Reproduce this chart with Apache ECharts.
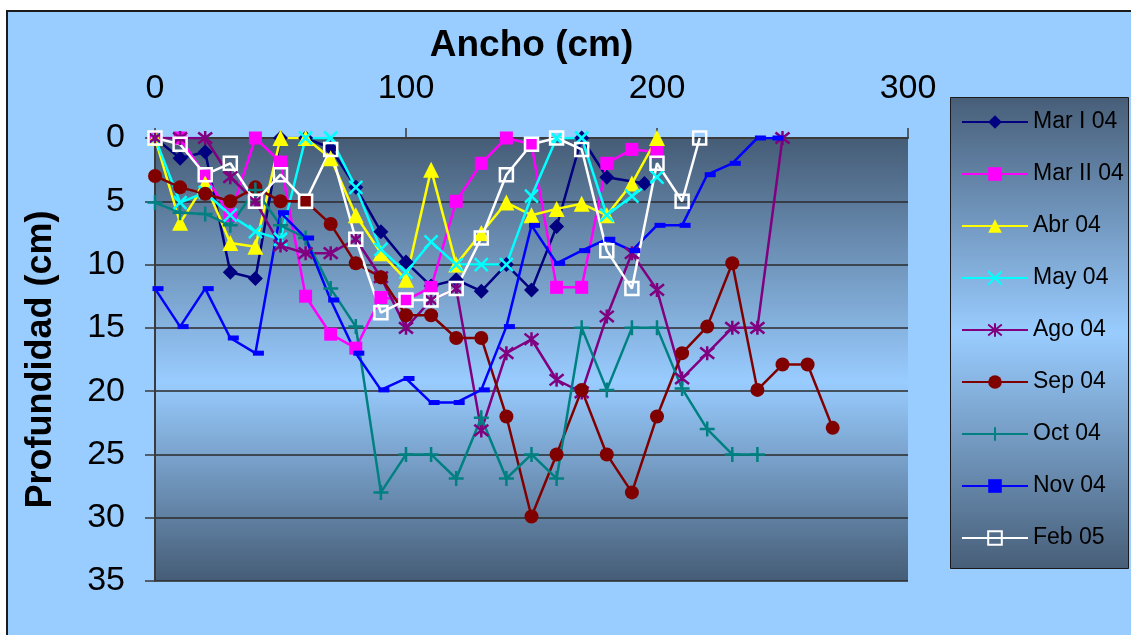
<!DOCTYPE html>
<html>
<head>
<meta charset="utf-8">
<title>Profundidad vs Ancho</title>
<script src="https://cdn.jsdelivr.net/npm/echarts@6/dist/echarts.min.js"></script>
<style>
  html, body { margin: 0; padding: 0; background: #ffffff; }
  #chart { position: absolute; left: 0; top: 0; width: 1131px; height: 635px; }
</style>
</head>
<body>
<div id="chart"></div>
<script>
// Cross-section survey: width along the transect (cm) vs depth (cm)
const seriesNames = ['Mar I 04', 'Mar II 04', 'Abr 04', 'May 04', 'Ago 04', 'Sep 04', 'Oct 04', 'Nov 04', 'Feb 05'];

const marIX  = [0, 10, 20, 30, 40, 50, 60, 70, 80, 90, 100, 110, 120, 130, 140, 150, 160, 170, 180, 195];
const marIY  = [0, 1.6, 1.1, 10.6, 11.1, 0, 0, 0.8, 3.9, 7.4, 9.8, 11.7, 11.2, 12.1, 10.0, 12.0, 7.0, 0, 3.1, 3.6];

const marIIX = [0, 10, 20, 30, 40, 50, 60, 70, 80, 90, 100, 110, 120, 130, 140, 150, 160, 170, 180, 190, 200];
const marIIY = [0, 0, 3.0, 6.1, 0, 1.9, 12.5, 15.5, 16.6, 12.6, 12.8, 11.8, 5.0, 2.0, 0, 0.5, 11.8, 11.8, 2.0, 0.9, 1.1];

const abrX   = [0, 10, 20, 30, 40, 50, 60, 70, 80, 90, 100, 110, 120, 130, 140, 150, 160, 170, 180, 190, 200];
const abrY   = [0, 6.7, 3.6, 8.3, 8.6, 0, 0, 1.6, 6.1, 9.1, 11.2, 2.5, 10.0, 7.5, 5.1, 6.1, 5.6, 5.2, 6.1, 3.6, 0];

const mayX   = [0, 10, 20, 30, 40, 50, 60, 70, 80, 90, 100, 110, 120, 130, 140, 150, 160, 170, 180, 190, 200];
const mayY   = [0, 5.1, 4.3, 6.1, 7.4, 8.0, 0, 0, 3.9, 8.8, 10.6, 8.2, 10.0, 10.0, 10.0, 4.6, 0, 0, 6.1, 4.6, 3.1];

const agoX   = [0, 10, 20, 30, 40, 50, 60, 70, 80, 90, 100, 110, 120, 130, 140, 150, 160, 170, 180, 190, 200, 210, 220, 230, 240, 250];
const agoY   = [0, 0, 0, 3.1, 5.0, 8.5, 9.1, 9.1, 8.0, 11.0, 15.0, 12.8, 11.9, 23.1, 17.0, 15.9, 19.1, 20.1, 14.1, 9.1, 12.0, 19.0, 17.0, 15.0, 15.0, 0];

const sepX   = [0, 10, 20, 30, 40, 50, 60, 70, 80, 90, 100, 110, 120, 130, 140, 150, 160, 170, 180, 190, 200, 210, 220, 230, 240, 250, 260, 270];
const sepY   = [3.0, 3.9, 4.4, 5.0, 3.9, 5.0, 5.0, 6.8, 9.9, 11.0, 14.0, 14.0, 15.8, 15.8, 22.0, 29.9, 25.0, 19.9, 25.0, 28.0, 22.0, 17.0, 14.9, 9.9, 19.9, 17.9, 17.9, 22.9];

const octX   = [0, 10, 20, 30, 40, 50, 60, 70, 80, 90, 100, 110, 120, 130, 140, 150, 160, 170, 180, 190, 200, 210, 220, 230, 240];
const octY   = [5.1, 5.9, 6.0, 6.9, 4.1, 6.9, 7.9, 11.9, 14.9, 28.0, 25.0, 25.0, 26.9, 22.1, 26.9, 25.0, 26.9, 15.0, 19.9, 15.0, 15.0, 19.8, 23.0, 25.0, 25.0];

const novX   = [0, 10, 20, 30, 40, 50, 60, 70, 80, 90, 100, 110, 120, 130, 140, 150, 160, 170, 180, 190, 200, 210, 220, 230, 240, 247];
const novY   = [11.9, 14.9, 11.9, 15.8, 17.0, 5.9, 7.9, 12.8, 17.0, 19.9, 19.0, 20.9, 20.9, 19.9, 14.9, 6.9, 9.9, 8.9, 8.0, 8.9, 6.9, 6.9, 2.9, 2.0, 0, 0];

const febX   = [0, 10, 20, 30, 40, 50, 60, 70, 80, 90, 100, 110, 120, 130, 140, 150, 160, 170, 180, 190, 200, 210, 217];
const febY   = [0, 0.5, 2.9, 2.0, 5.0, 2.9, 5.0, 0.9, 8.0, 13.8, 12.8, 12.8, 11.9, 7.9, 2.9, 0.5, 0, 0.9, 8.9, 11.9, 2.0, 5.0, 0];

const xTicks = [0, 100, 200, 300];
const yTicks = [0, 5, 10, 15, 20, 25, 30, 35];

const FONT = '"Liberation Sans", Arial, sans-serif';

// marker outlines drawn as strokes
const CROSS    = 'path://M0,0L10,10M10,0L0,10';
const ASTERISK = 'path://M1,1L9,9M9,1L1,9M5,0L5,10';
const PLUS     = 'path://M5,0L5,10M0,5L10,5';

function pairs(xs, ys) { return xs.map((x, i) => [x, ys[i]]); }

function lineSeries(name, xs, ys, color, marker) {
  return Object.assign({
    name: name,
    type: 'line',
    data: pairs(xs, ys),
    lineStyle: { color: color, width: 2.5 },
    emphasis: { disabled: true },
    animation: false
  }, marker);
}

const series = [
  lineSeries(seriesNames[0], marIX, marIY, '#000080', {
    symbol: 'diamond', symbolSize: 15, itemStyle: { color: '#000080', borderWidth: 0 } }),
  lineSeries(seriesNames[1], marIIX, marIIY, '#ff00ff', {
    symbol: 'rect', symbolSize: 13, itemStyle: { color: '#ff00ff', borderWidth: 0 } }),
  lineSeries(seriesNames[2], abrX, abrY, '#ffff00', {
    symbol: 'triangle', symbolSize: 16, itemStyle: { color: '#ffff00', borderWidth: 0 } }),
  lineSeries(seriesNames[3], mayX, mayY, '#00ffff', {
    symbol: CROSS, symbolSize: 13, itemStyle: { color: '#00ffff', borderColor: '#00ffff', borderWidth: 2.5 } }),
  lineSeries(seriesNames[4], agoX, agoY, '#800080', {
    symbol: ASTERISK, symbolSize: 14, itemStyle: { color: '#800080', borderColor: '#800080', borderWidth: 2.5 } }),
  lineSeries(seriesNames[5], sepX, sepY, '#800000', {
    symbol: 'circle', symbolSize: 14, itemStyle: { color: '#800000', borderWidth: 0 } }),
  lineSeries(seriesNames[6], octX, octY, '#008080', {
    symbol: PLUS, symbolSize: 15, itemStyle: { color: '#008080', borderColor: '#008080', borderWidth: 2.5 } }),
  lineSeries(seriesNames[7], novX, novY, '#0000ff', {
    symbol: 'rect', symbolSize: [11, 5], symbolOffset: [3, 0], itemStyle: { color: '#0000ff', borderWidth: 0 } }),
  lineSeries(seriesNames[8], febX, febY, '#ffffff', {
    symbol: 'rect', symbolSize: 13, itemStyle: { color: 'rgba(0,0,0,0)', borderColor: '#ffffff', borderWidth: 2.5 } })
];

function vGradient(edge, mid, midPos) {
  return {
    type: 'linear', x: 0, y: 0, x2: 0, y2: 1,
    colorStops: [
      { offset: 0, color: edge },
      { offset: midPos, color: mid },
      { offset: 1, color: edge }
    ]
  };
}

const chart = echarts.init(document.getElementById('chart'), null, { renderer: 'canvas' });

chart.setOption({
  animation: false,
  backgroundColor: '#ffffff',
  textStyle: { fontFamily: FONT },
  graphic: [
    { type: 'rect', z: -10, silent: true,
      shape: { x: 7, y: 11, width: 1140, height: 640 },
      style: { fill: '#99ccff', stroke: '#1a1a1a', lineWidth: 2 } },
    { type: 'rect', z: -5, silent: true,
      shape: { x: 950.5, y: 97.5, width: 178, height: 471 },
      style: { fill: vGradient('#475e78', '#99ccff', 0.5), stroke: '#1a1a1a', lineWidth: 1 } }
  ],
  grid: {
    left: 155, top: 138, width: 753, height: 443,
    show: true, borderWidth: 0,
    backgroundColor: vGradient('#455c76', '#99ccff', 0.55)
  },
  xAxis: {
    type: 'value', position: 'top',
    min: xTicks[0], max: xTicks[xTicks.length - 1], interval: 100,
    name: 'Ancho (cm)', nameLocation: 'middle', nameGap: 74,
    nameTextStyle: { fontFamily: FONT, fontSize: 37, fontWeight: 'bold', color: '#000' },
    axisLine: { show: true, lineStyle: { color: '#3a3a3a', width: 2 } },
    axisTick: { show: true, inside: false, length: 10, lineStyle: { color: '#3a3a3a', width: 1.5 } },
    axisLabel: { margin: 32, fontFamily: FONT, fontSize: 34, color: '#000' },
    splitLine: { show: false }
  },
  yAxis: {
    type: 'value', inverse: true,
    min: yTicks[0], max: yTicks[yTicks.length - 1], interval: 5,
    name: 'Profundidad (cm)', nameLocation: 'middle', nameGap: 96,
    nameTextStyle: { fontFamily: FONT, fontSize: 36, fontWeight: 'bold', color: '#000' },
    axisLine: { show: true, lineStyle: { color: '#3a3a3a', width: 2 } },
    axisTick: { show: true, inside: false, length: 10, lineStyle: { color: '#3a3a3a', width: 1.5 } },
    axisLabel: { margin: 30, fontFamily: FONT, fontSize: 34, color: '#000' },
    splitLine: { show: true, lineStyle: { color: '#2a2a2a', width: 1.5 } }
  },
  legend: {
    orient: 'vertical',
    left: 961, top: 109, padding: 0,
    itemWidth: 66, itemHeight: 17, itemGap: 26,
    data: seriesNames,
    textStyle: { fontFamily: FONT, fontSize: 23, color: '#000', lineHeight: 26 },
    selectedMode: false
  },
  series: series
});
</script>
</body>
</html>
